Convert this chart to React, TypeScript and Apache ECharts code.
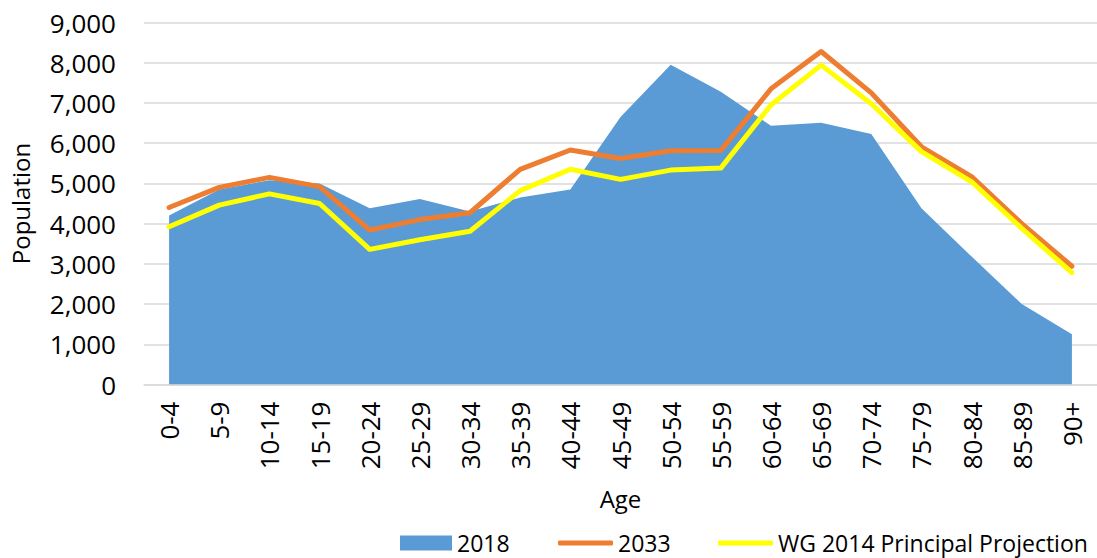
import React, { useEffect, useRef } from "react";
import * as echarts from "echarts";

const categories = ["0-4", "5-9", "10-14", "15-19", "20-24", "25-29", "30-34", "35-39", "40-44", "45-49", "50-54", "55-59", "60-64", "65-69", "70-74", "75-79", "80-84", "85-89", "90+"];
const values2018 = [4200, 4850, 5080, 5000, 4380, 4610, 4300, 4650, 4850, 6650, 7950, 7280, 6430, 6510, 6230, 4380, 3180, 2000, 1250];
const values2033 = [4400, 4900, 5150, 4920, 3840, 4100, 4270, 5350, 5830, 5620, 5810, 5820, 7350, 8280, 7250, 5910, 5170, 4000, 2940];
const valuesWG = [3920, 4460, 4740, 4500, 3360, 3600, 3810, 4820, 5350, 5100, 5330, 5380, 6950, 7940, 6980, 5790, 5040, 3880, 2780];
const seriesNames = ["2018", "2033", "WG 2014 Principal Projection"];
const yTicks = { min: 0, max: 9000, interval: 1000 };

const FONT = "'Open Sans', sans-serif";
const BLUE = "#5B9BD5";
const ORANGE = "#ED7D31";
const YELLOW = "#FFFF00";

export default function App() {
  const ref = useRef<HTMLDivElement>(null);
  useEffect(() => {
    if (!ref.current) return;
    const chart = echarts.init(ref.current, undefined, { renderer: "svg" });
    const textStyle = { fontFamily: FONT, fontSize: 23, color: "#000", lineHeight: 26 };
    chart.setOption({
      animation: false,
      backgroundColor: "#fff",
      textStyle: { fontFamily: FONT },
      grid: { left: 139, right: 0, top: 22.5, bottom: 173.5 },
      legend: [
        { top: 530, left: 400, itemWidth: 52, itemHeight: 15, itemGap: 6, textStyle, padding: 0,
          data: [{ name: seriesNames[0], icon: "rect" }] },
        { top: 530, left: 558, itemWidth: 55, itemHeight: 5, itemGap: 6, textStyle, padding: 0,
          data: [{ name: seriesNames[1], icon: "roundRect" }] },
        { top: 530, left: 718, itemWidth: 55, itemHeight: 5, itemGap: 6, textStyle, padding: 0,
          data: [{ name: seriesNames[2], icon: "roundRect" }] },
      ],
      xAxis: {
        type: "category",
        data: categories,
        boundaryGap: true,
        name: "Age",
        nameLocation: "middle",
        nameGap: 102,
        nameTextStyle: { fontFamily: FONT, fontSize: 24, color: "#000" },
        axisLine: { lineStyle: { color: "#d9d9d9", width: 1.5 } },
        axisTick: { show: false },
        axisLabel: { rotate: 90, margin: 17, fontFamily: FONT, fontSize: 26, color: "#000", interval: 0 },
      },
      yAxis: {
        type: "value",
        min: yTicks.min,
        max: yTicks.max,
        interval: yTicks.interval,
        name: "Population",
        nameLocation: "middle",
        nameGap: 112,
        nameTextStyle: { fontFamily: FONT, fontSize: 24, color: "#000" },
        axisLine: { show: false },
        axisTick: { show: false },
        splitLine: { lineStyle: { color: "#d9d9d9", width: 1.5 } },
        axisLabel: {
          margin: 28,
          fontFamily: FONT,
          fontSize: 26,
          color: "#000",
          formatter: (v: number) => v.toLocaleString("en-US"),
        },
      },
      series: [
        {
          name: seriesNames[0],
          type: "line",
          data: values2018,
          symbol: "none",
          lineStyle: { width: 0, color: BLUE },
          itemStyle: { color: BLUE },
          areaStyle: { color: BLUE, opacity: 1 },
        },
        {
          name: seriesNames[1],
          type: "line",
          data: values2033,
          symbol: "none",
          lineStyle: { width: 5, color: ORANGE, cap: "round", join: "round" },
          itemStyle: { color: ORANGE },
        },
        {
          name: seriesNames[2],
          type: "line",
          data: valuesWG,
          symbol: "none",
          lineStyle: { width: 5, color: YELLOW, cap: "round", join: "round" },
          itemStyle: { color: YELLOW },
        },
      ],
    });
    return () => chart.dispose();
  }, []);
  return <div ref={ref} style={{ position: "absolute", left: 0, top: 0, width: 1097, height: 558 }} />;
}
